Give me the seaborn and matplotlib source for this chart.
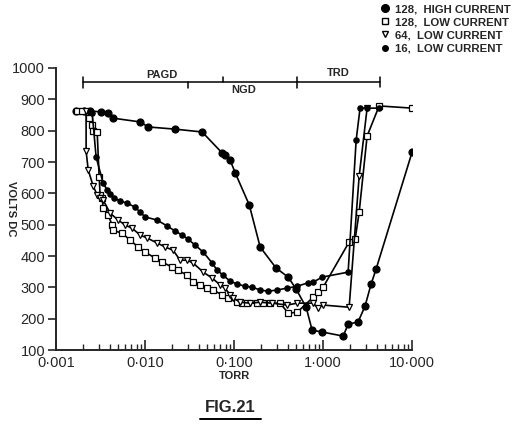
import seaborn as sns
import matplotlib.pyplot as plt
import pandas as pd
from matplotlib.lines import Line2D
from matplotlib.ticker import LogLocator, NullFormatter

# data (pressure in torr, voltage in volts dc)
hi128_torr = [0.00168, 0.00207, 0.00241, 0.00320, 0.00384, 0.00437, 0.00879, 0.0108, 0.0217,
              0.0437, 0.0733, 0.0792, 0.0902, 0.103, 0.148, 0.196, 0.296, 0.405, 0.497, 0.644,
              0.752, 0.975, 1.68, 1.91, 2.47, 2.96, 3.46, 3.94, 10.0]
hi128_volts = [863, 863, 863, 860, 856, 840, 828, 812, 805, 796, 729, 722, 706, 665, 563, 429,
               362, 333, 295, 237, 164, 158, 145, 183, 190, 241, 311, 359, 732]

lo128_torr = [0.00172, 0.00196, 0.00235, 0.00254, 0.00261, 0.00289, 0.00304, 0.00312, 0.00329,
              0.00337, 0.00384, 0.00426, 0.0043, 0.00552, 0.00678, 0.00834, 0.0100, 0.0129,
              0.0155, 0.0201, 0.0235, 0.0296, 0.0346, 0.0415, 0.0498, 0.0581, 0.0733, 0.0857,
              0.108, 0.123, 0.140, 0.181, 0.212, 0.254, 0.329, 0.405, 0.511, 0.772, 0.879, 1.0,
              1.96, 2.29, 2.54, 3.12, 4.26, 10.0]
lo128_volts = [863, 863, 840, 818, 799, 796, 652, 595, 585, 553, 531, 499, 483, 473, 451, 429,
               413, 394, 381, 365, 355, 339, 317, 308, 298, 292, 276, 266, 253, 250, 250, 250,
               250, 250, 250, 218, 221, 269, 285, 301, 445, 454, 540, 783, 879, 872]

lo64_torr = [0.00217, 0.00217, 0.00229, 0.00261, 0.00289, 0.00312, 0.00337, 0.00404, 0.00498,
             0.00596, 0.00714, 0.00879, 0.0105, 0.0136, 0.0168, 0.0206, 0.0247, 0.0296, 0.0346,
             0.0449, 0.0566, 0.0697, 0.0792, 0.0902, 0.0975, 0.117, 0.151, 0.196, 0.267, 0.394,
             0.511, 0.772, 0.879, 1.0, 1.96, 2.54, 3.12]
lo64_volts = [863, 735, 675, 623, 595, 585, 579, 537, 515, 499, 489, 467, 458, 442, 429, 419,
              387, 387, 378, 349, 330, 308, 298, 276, 266, 253, 250, 253, 250, 244, 250, 250,
              234, 244, 237, 655, 872]

lo16_torr = [0.00241, 0.00254, 0.00281, 0.00337, 0.00374, 0.00404, 0.00449, 0.00524, 0.00628,
             0.00773, 0.00879, 0.0100, 0.0136, 0.0177, 0.0217, 0.0261, 0.0304, 0.0365, 0.0449,
             0.0566, 0.0644, 0.0752, 0.0902, 0.108, 0.133, 0.159, 0.196, 0.241, 0.304, 0.394,
             0.511, 0.678, 0.772, 0.975, 1.91, 2.35, 2.60, 3.12, 4.26]
lo16_volts = [863, 856, 716, 633, 611, 598, 585, 576, 569, 556, 540, 525, 515, 496, 480, 467,
              454, 435, 413, 378, 355, 339, 320, 311, 304, 301, 292, 288, 292, 298, 304, 315,
              317, 333, 349, 770, 872, 872, 872]

series_names = ["128,  HIGH CURRENT", "128,  LOW CURRENT", "64,  LOW CURRENT", "16,  LOW CURRENT"]

x_ticks = [0.001, 0.01, 0.1, 1.0, 10.0]
x_labels = ["0\u00b7001", "0\u00b7010", "0\u00b7100", "1\u00b7000", "10\u00b7000"]
y_ticks = [100, 200, 300, 400, 500, 600, 700, 800, 900, 1000]

sns.set_style("ticks")
plt.rcParams['font.family'] = ['Liberation Sans', 'DejaVu Sans']

fig = plt.figure(figsize=(5.25, 4.25), dpi=100)
ax = fig.add_axes([0.107, 0.176, 0.678, 0.664])

# (torr, volts, marker, size, face)
styles = [
    (hi128_torr, hi128_volts, "o", 5.0, "black"),
    (lo128_torr, lo128_volts, "s", 4.8, "white"),
    (lo64_torr, lo64_volts, "v", 4.5, "white"),
    (lo16_torr, lo16_volts, "o", 3.8, "black"),
]
for (tx, vy, mk, ms, fc), name in zip(styles, series_names):
    df = pd.DataFrame({"torr": tx, "volts": vy})
    sns.lineplot(data=df, x="torr", y="volts", sort=False, estimator=None, ax=ax,
                 color="black", linewidth=1.2, marker=mk, markersize=ms,
                 markerfacecolor=fc, markeredgecolor="black", markeredgewidth=0.9)

ax.set_xscale("log")
ax.set_xlim(0.001, 10)
ax.set_ylim(100, 1000)
ax.set_xticks(x_ticks, x_labels)
ax.xaxis.set_minor_locator(LogLocator(base=10, subs=range(2, 10)))
ax.xaxis.set_minor_formatter(NullFormatter())
ax.set_yticks(y_ticks)
ax.set_xlabel("TORR", fontsize=8, fontweight="bold", labelpad=1)
ax.set_ylabel("VOLTS DC", fontsize=8, fontweight="bold", rotation=-90, labelpad=12)
ax.yaxis.set_label_coords(-0.14, 0.5)
sns.despine(ax=ax)
for s in ["left", "bottom"]:
    ax.spines[s].set_linewidth(1.4)
ax.tick_params(axis="y", direction="out", length=6, width=1.2, labelsize=10.5, pad=2)
ax.tick_params(axis="x", which="major", direction="in", length=7, width=1.2, labelsize=10.5, pad=4)
ax.tick_params(axis="x", which="minor", direction="in", length=4, width=1.0)

# discharge regime brackets above the plot
kw = dict(color="black", linewidth=1.1, clip_on=False)
ax.plot([0.002, 4.3], [954, 954], **kw)
ax.plot([0.002, 0.002], [935, 972], **kw)
ax.plot([0.03, 0.03], [935, 954], **kw)
ax.plot([0.075, 0.075], [954, 972], **kw)
ax.plot([0.51, 0.51], [935, 972], **kw)
ax.plot([4.3, 4.3], [938, 970], **kw)
ax.text(0.0155, 978, "PAGD", ha="center", va="center", fontsize=8, fontweight="bold")
ax.text(0.129, 929, "NGD", ha="center", va="center", fontsize=8, fontweight="bold")
ax.text(1.48, 984, "TRD", ha="center", va="center", fontsize=8, fontweight="bold")

handles = [
    Line2D([], [], linestyle="none", marker="o", markersize=5.5, color="black"),
    Line2D([], [], linestyle="none", marker="s", markersize=5, markerfacecolor="white",
           markeredgecolor="black"),
    Line2D([], [], linestyle="none", marker="v", markersize=5, markerfacecolor="white",
           markeredgecolor="black"),
    Line2D([], [], linestyle="none", marker="o", markersize=4, color="black"),
]
leg = fig.legend(handles, series_names, loc="upper left", bbox_to_anchor=(0.707, 1.014),
                 frameon=False, handlelength=0.7, handletextpad=0.45, labelspacing=0.27,
                 prop={"size": 8.2, "weight": "bold"})

fig.text(0.438, 0.04, "FIG.21", fontsize=12, fontweight="bold", ha="center", va="center")
fig.add_artist(Line2D([0.38, 0.498], [0.014, 0.014], color="black", linewidth=1.4))

fig.savefig("out.png", dpi=100, facecolor="white")
